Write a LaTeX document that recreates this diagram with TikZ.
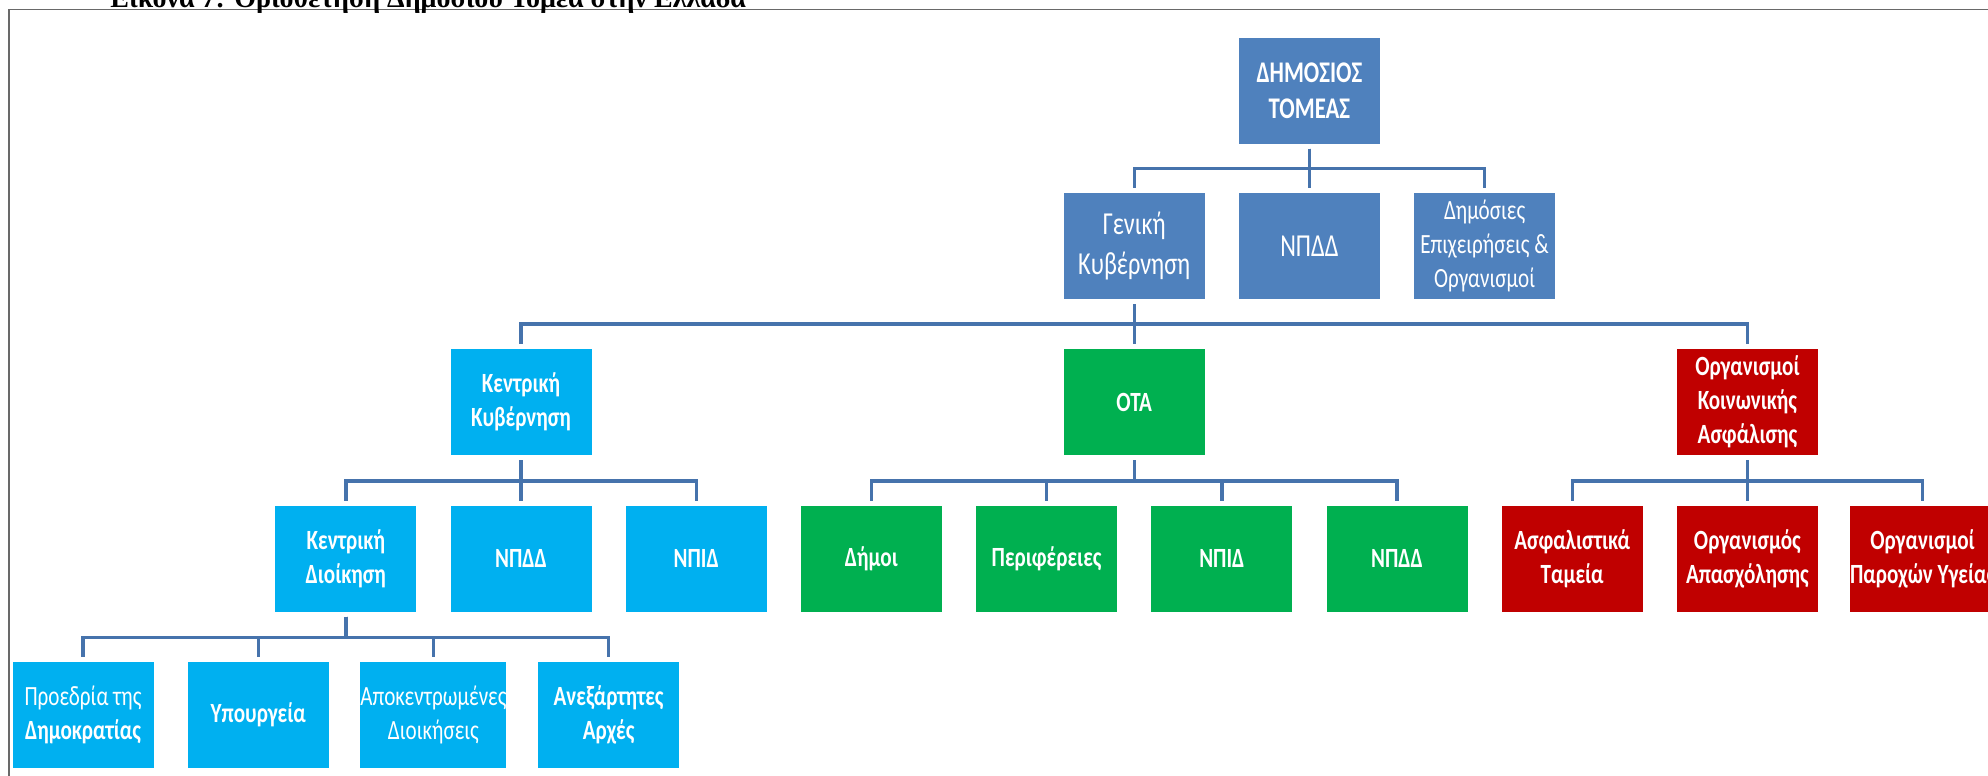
\documentclass[tikz,border=0pt]{standalone}
\usepackage{fontspec}
\setsansfont{Carlito}[FakeStretch=0.76]
\newfontfamily\titlefont{Liberation Serif}
\definecolor{darkblue}{RGB}{79,129,189}
\definecolor{lightblue}{RGB}{0,176,240}
\definecolor{okgreen}{RGB}{0,176,80}
\definecolor{darkred}{RGB}{192,0,0}
\definecolor{linkblue}{RGB}{70,115,172}
\definecolor{framegray}{RGB}{105,105,105}

\begin{document}
\begin{tikzpicture}[x=0.5pt,y=-0.5pt,
    box/.style={minimum width=70.5pt,minimum height=53pt,inner sep=0pt,
      outer xsep=0pt,outer ysep=2.5pt,align=center,text=white,
      font=\sffamily\fontsize{13.9}{17}\selectfont},
    bigtext/.style={font=\sffamily\fontsize{16}{20}\selectfont},
    bluebox/.style={box,fill=darkblue},
    cyanbox/.style={box,fill=lightblue},
    greenbox/.style={box,fill=okgreen},
    redbox/.style={box,fill=darkred},
    link/.style={draw=linkblue,line width=1.7pt}]
    \useasboundingbox (0,0) rectangle (1988,776);

    % frame and caption
    \draw [framegray,line width=0.8pt] (1988,9.5) -- (9,9.5) -- (9,776);
    \node [anchor=base west,inner sep=0pt] (caption) at (110,7)
      {\titlefont\bfseries\fontsize{14}{16}\selectfont Εικόνα 7: Οριοθέτηση Δημόσιου Τομέα στην Ελλάδα};

    % level 1 and 2
    \node [bluebox,font=\sffamily\fontsize{15}{18}\selectfont] (ds) at (1309.4,90.5) {\textbf{ΔΗΜΟΣΙΟΣ}\\\textbf{ΤΟΜΕΑΣ}};
    \node [bluebox,bigtext] (gk) at (1134.2,246) {Γενική\\Κυβέρνηση};
    \node [bluebox,bigtext] (npdda) at (1309.4,246) {ΝΠΔΔ};
    \node [bluebox] (dep) at (1484.6,246) {Δημόσιες\\Επιχειρήσεις \&\\Οργανισμοί};

    % level 3
    \node [cyanbox] (kk) at (521,402) {\textbf{Κεντρική}\\\textbf{Κυβέρνηση}};
    \node [greenbox] (ota) at (1134.2,402) {\textbf{ΟΤΑ}};
    \node [redbox] (oka) at (1747.4,402) {\textbf{Οργανισμοί}\\\textbf{Κοινωνικής}\\\textbf{Ασφάλισης}};

    % level 4
    \node [cyanbox] (kd) at (345.8,558.5) {\textbf{Κεντρική}\\\textbf{Διοίκηση}};
    \node [cyanbox] (npddb) at (521,558.5) {\textbf{ΝΠΔΔ}};
    \node [cyanbox] (npida) at (696.2,558.5) {\textbf{ΝΠΙΔ}};
    \node [greenbox] (dimoi) at (871.4,558.5) {\textbf{Δήμοι}};
    \node [greenbox] (perif) at (1046.6,558.5) {\textbf{Περιφέρειες}};
    \node [greenbox] (npidb) at (1221.8,558.5) {\textbf{ΝΠΙΔ}};
    \node [greenbox] (npddc) at (1397,558.5) {\textbf{ΝΠΔΔ}};
    \node [redbox] (tameia) at (1572.2,558.5) {\textbf{Ασφαλιστικά}\\\textbf{Ταμεία}};
    \node [redbox] (apasx) at (1747.4,558.5) {\textbf{Οργανισμός}\\\textbf{Απασχόλησης}};
    \node [redbox] (ygeia) at (1922.6,558.5) {\textbf{Οργανισμοί}\\\textbf{Παροχών Υγείας}};

    % level 5
    \node [cyanbox] (proedria) at (83,715) {Προεδρία της\\\textbf{Δημοκρατίας}};
    \node [cyanbox] (ypourg) at (258.2,715) {\textbf{Υπουργεία}};
    \node [cyanbox] (apok) at (433.4,715) {Αποκεντρωμένες\\Διοικήσεις};
    \node [cyanbox] (anex) at (608.6,715) {\textbf{Ανεξάρτητες}\\\textbf{Αρχές}};

    % connectors
    \draw [link] (ds.south) -- ++(0,20) -| (gk.north);
    \draw [link] (ds.south) -- ++(0,20) -| (npdda.north);
    \draw [link] (ds.south) -- ++(0,20) -| (dep.north);

    \draw [link] (gk.south) -- ++(0,20) -| (kk.north);
    \draw [link] (gk.south) -- ++(0,20) -| (ota.north);
    \draw [link] (gk.south) -- ++(0,20) -| (oka.north);

    \draw [link] (kk.south) -- ++(0,21) -| (kd.north);
    \draw [link] (kk.south) -- ++(0,21) -| (npddb.north);
    \draw [link] (kk.south) -- ++(0,21) -| (npida.north);

    \draw [link] (ota.south) -- ++(0,21) -| (dimoi.north);
    \draw [link] (ota.south) -- ++(0,21) -| (perif.north);
    \draw [link] (ota.south) -- ++(0,21) -| (npidb.north);
    \draw [link] (ota.south) -- ++(0,21) -| (npddc.north);

    \draw [link] (oka.south) -- ++(0,21) -| (tameia.north);
    \draw [link] (oka.south) -- ++(0,21) -| (apasx.north);
    \draw [link] (oka.south) -- ++(0,21) -| (ygeia.north);

    \draw [link] (kd.south) -- ++(0,21) -| (proedria.north);
    \draw [link] (kd.south) -- ++(0,21) -| (ypourg.north);
    \draw [link] (kd.south) -- ++(0,21) -| (apok.north);
    \draw [link] (kd.south) -- ++(0,21) -| (anex.north);
  \end{tikzpicture}
\end{document}
